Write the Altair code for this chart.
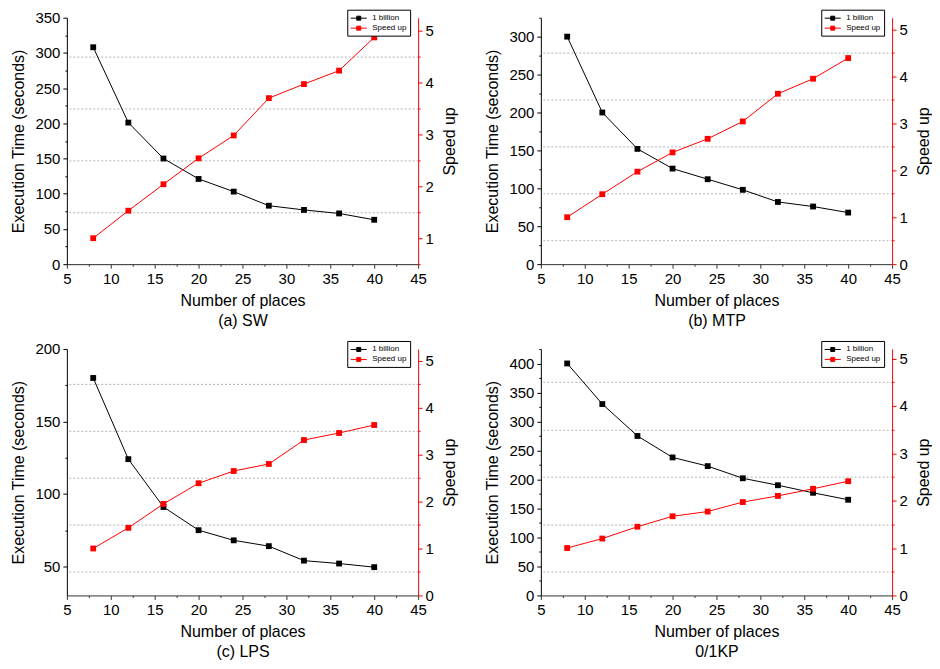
import altair as alt
import pandas as pd

places = [8, 12, 16, 20, 24, 28, 32, 36, 40]

sw_time = [308, 201, 150, 121, 103, 83, 77, 72, 63]
sw_speed = [1.0, 1.53, 2.04, 2.54, 2.98, 3.70, 3.97, 4.23, 4.87]

mtp_time = [300, 200, 152, 126, 112, 98, 82, 76, 68]
mtp_speed = [1.0, 1.49, 1.97, 2.38, 2.67, 3.04, 3.63, 3.95, 4.39]

lps_time = [180, 124, 91, 75, 68, 64, 54, 52, 49.5]
lps_speed = [1.0, 1.44, 1.95, 2.39, 2.65, 2.80, 3.31, 3.46, 3.63]

kp_time = [400, 330, 275, 238, 223, 202, 190, 177, 165]
kp_speed = [1.0, 1.20, 1.45, 1.67, 1.77, 1.97, 2.10, 2.25, 2.41]

panel_titles = ["(a) SW", "(b) MTP", "(c) LPS", "0/1KP"]
times = [sw_time, mtp_time, lps_time, kp_time]
speeds = [sw_speed, mtp_speed, lps_speed, kp_speed]
time_domains = [[0, 350], [0, 325], [30, 200], [0, 425]]
speed_domains = [[0.5, 5.25], [0, 5.25], [0, 5.25], [0, 5.2]]
series = ["1 billion", "Speed up"]
colors = ["#000000", "#ff0000"]
x_ticks = [5 + 2.5 * k for k in range(17)]

widths = [352, 352, 352, 352]
H = 247
FONT = "Liberation Sans"

SYMBOL = "M-1.7,0H1.7M-0.42,-0.42H0.42V0.42H-0.42Z"


def steps(lo, hi, step):
    out = []
    k = 0
    while True:
        v = round(k * step, 4)
        if v > hi + 1e-9:
            break
        if v >= lo - 1e-9:
            out.append(v)
        k += 1
    return out


def panel(i):
    df = pd.DataFrame({"places": places, "time": times[i], "speed": speeds[i]})
    w = widths[i]
    legend = alt.Legend(
        title=None,
        orient="none",
        legendX=w - 71,
        legendY=-8,
        strokeColor="black",
        fillColor="white",
        padding=3,
        labelFontSize=8,
        labelFont=FONT,
        labelColor="black",
        labelOffset=8,
        symbolOffset=3,
        symbolType=SYMBOL,
        symbolSize=90,
        symbolStrokeWidth=1,
        symbolOpacity=1,
        rowPadding=0,
    )
    cscale = alt.Scale(domain=series, range=colors)
    stroke = alt.Stroke("series:N", scale=cscale, legend=legend)
    fill = alt.Fill("series:N", scale=cscale, legend=legend)
    x = alt.X(
        "places:Q",
        scale=alt.Scale(domain=[5, 45], nice=False, zero=False),
        axis=alt.Axis(
            values=x_ticks,
            labelExpr="datum.value % 5 === 0 ? datum.label : ''",
            title=["Number of places", panel_titles[i]],
            titleLineHeight=20,
            titlePadding=6,
            tickSize={"condition": {"test": "datum.value % 5 === 0", "value": 4}, "value": 2},
            domainColor="#333333",
            tickColor="#333333",
            labelFlush=False,
            labelOverlap=False,
            labelPadding=3,
            grid=False,
        ),
    )
    base = alt.Chart(df).encode(x=x)
    tlo, thi = time_domains[i]
    slo, shi = speed_domains[i]
    time_axis = alt.Axis(
        values=steps(tlo, thi, 25),
        labelExpr="datum.value % 50 === 0 ? datum.label : ''",
        title="Execution Time (seconds)",
        titlePadding=8,
        tickSize={"condition": {"test": "datum.value % 50 === 0", "value": 4}, "value": 2},
        domainColor="black",
        tickColor="black",
        labelOverlap=False,
        labelFlush=False,
        labelPadding=3,
        grid=False,
    )
    speed_axis = alt.Axis(
        orient="right",
        values=steps(slo, shi, 0.5),
        labelExpr="datum.value % 1 === 0 ? ('' + datum.value) : ''",
        title="Speed up",
        titleAngle=270,
        titleBaseline="top",
        titlePadding=8,
        tickSize={"condition": {"test": "datum.value % 1 === 0", "value": 4}, "value": 2},
        domainColor="#ff0000",
        tickColor="#ff0000",
        labelOverlap=False,
        labelFlush=False,
        labelPadding=3,
        grid=True,
        gridColor="#b4b4b4",
        gridDash=[2, 2],
        gridWidth=1,
        gridOpacity={"condition": {"test": "datum.value % 1 !== 0", "value": 1}, "value": 0},
    )
    ty = alt.Y("time:Q", scale=alt.Scale(domain=[tlo, thi], nice=False, zero=False), axis=time_axis)
    sy = alt.Y("speed:Q", scale=alt.Scale(domain=[slo, shi], nice=False, zero=False), axis=speed_axis)
    tb = base.transform_calculate(series="'1 billion'")
    sb = base.transform_calculate(series="'Speed up'")
    t_line = tb.mark_line(strokeWidth=1).encode(y=ty, stroke=stroke)
    t_pts = tb.mark_point(shape="square", filled=True, size=34, opacity=1).encode(y=ty, fill=fill)
    s_line = sb.mark_line(strokeWidth=1).encode(y=sy, stroke=stroke)
    s_pts = sb.mark_point(shape="square", filled=True, size=34, opacity=1).encode(y=sy, fill=fill)
    time_layer = alt.layer(t_line, t_pts)
    speed_layer = alt.layer(s_line, s_pts)
    return (
        alt.layer(time_layer, speed_layer)
        .resolve_scale(y="independent")
        .properties(width=w, height=H)
    )


chart = (
    alt.concat(*[panel(i) for i in range(4)], columns=2, spacing={"row": 12, "column": 26})
    .resolve_scale(stroke="independent", fill="independent", x="independent", y="independent")
    .properties(padding={"left": 2, "top": 0, "right": 0, "bottom": 0})
    .configure(font=FONT)
    .configure_view(stroke=None)
    .configure_axis(
        labelFont=FONT,
        titleFont=FONT,
        labelFontSize=15,
        titleFontSize=16,
        titleFontWeight="normal",
        labelColor="black",
        titleColor="black",
        domainWidth=1,
        tickWidth=1,
    )
)

chart.save("out.html", embed_options={"renderer": "svg", "actions": False})
